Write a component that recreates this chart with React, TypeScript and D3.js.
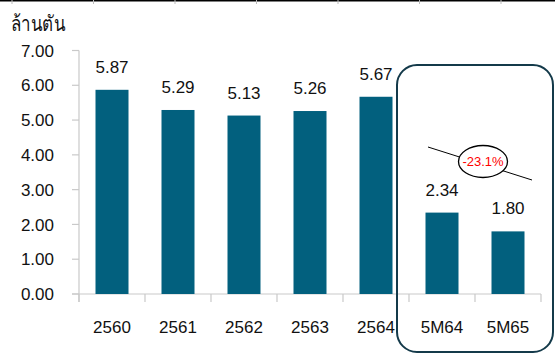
import React from "react";
import * as d3 from "d3";

const categories = ["2560", "2561", "2562", "2563", "2564", "5M64", "5M65"];
const values = [5.87, 5.29, 5.13, 5.26, 5.67, 2.34, 1.8];
const yTicks = [0, 1, 2, 3, 4, 5, 6, 7];
const unitLabel = "ล้านตัน";
const changeLabel = "-23.1%";

export default function App() {
  const W = 555, H = 360;
  const x = d3.scaleBand<string>().domain(categories).range([79, 541]).paddingInner(0.5).paddingOuter(0.25);
  const y = d3.scaleLinear().domain([0, 7]).range([294, 50.5]);
  const font = "Arial, 'Liberation Sans', sans-serif";
  const axisColor = "#c9c9c9";
  const barColor = "#02607E";
  const band = (x.range()[1] - x.range()[0]) / categories.length;
  const topTicks = d3.range(7).map((i) => 12 + i * 81.5);
  return (
    <svg width={W} height={H} style={{ position: "absolute", left: 0, top: 0 }} fontFamily={font}>
      <rect width={W} height={H} fill="#fff" />
      {/* cropped top border */}
      <line x1={0} x2={W} y1={0.75} y2={0.75} stroke="#000" strokeWidth={1.5} />
      {topTicks.map((t) => (
        <line key={t} x1={t} x2={t} y1={0} y2={4} stroke="#bbb" strokeWidth={1} />
      ))}
      <text x={11} y={31} fontSize={21} fill="#111" textLength={54} lengthAdjust="spacingAndGlyphs">{unitLabel}</text>
      {/* y axis */}
      <line x1={79} x2={79} y1={y(7)} y2={y(0) + 8} stroke={axisColor} strokeWidth={1.2} />
      {yTicks.map((t) => (
        <g key={t}>
          <line x1={72} x2={79} y1={y(t)} y2={y(t)} stroke={axisColor} strokeWidth={1.2} />
          <text x={54} y={y(t)} dy="0.36em" textAnchor="end" fontSize={17} fill="#111">
            {t.toFixed(2)}
          </text>
        </g>
      ))}
      {/* x axis */}
      <line x1={72} x2={541} y1={y(0)} y2={y(0)} stroke={axisColor} strokeWidth={1.2} />
      {d3.range(categories.length + 1).map((i) => (
        <line key={i} x1={79 + i * band} x2={79 + i * band} y1={y(0)} y2={y(0) + 8} stroke={axisColor} strokeWidth={1.2} />
      ))}
      {categories.map((c, i) => {
        const bx = x(c)!;
        const bw = x.bandwidth();
        return (
          <g key={c}>
            <rect x={bx} y={y(values[i])} width={bw} height={y(0) - y(values[i])} fill={barColor} />
            <text x={bx + bw / 2} y={y(values[i]) - 17} textAnchor="middle" fontSize={17} fill="#111">
              {values[i].toFixed(2)}
            </text>
            <text x={bx + bw / 2} y={333} textAnchor="middle" fontSize={17} fill="#111">
              {c}
            </text>
          </g>
        );
      })}
      {/* highlight box */}
      <rect x={397} y={65} width={156} height={287} rx={20} ry={20} fill="none" stroke="#143A4A" strokeWidth={2} />
      <line x1={428} y1={147} x2={532} y2={180} stroke="#000" strokeWidth={1} />
      <ellipse cx={483} cy={161.5} rx={24.5} ry={16} fill="#fff" stroke="#000" strokeWidth={1.3} />
      <text x={483} y={161.5} dy="0.36em" textAnchor="middle" fontSize={13} fill="#ff0000">
        {changeLabel}
      </text>
    </svg>
  );
}
